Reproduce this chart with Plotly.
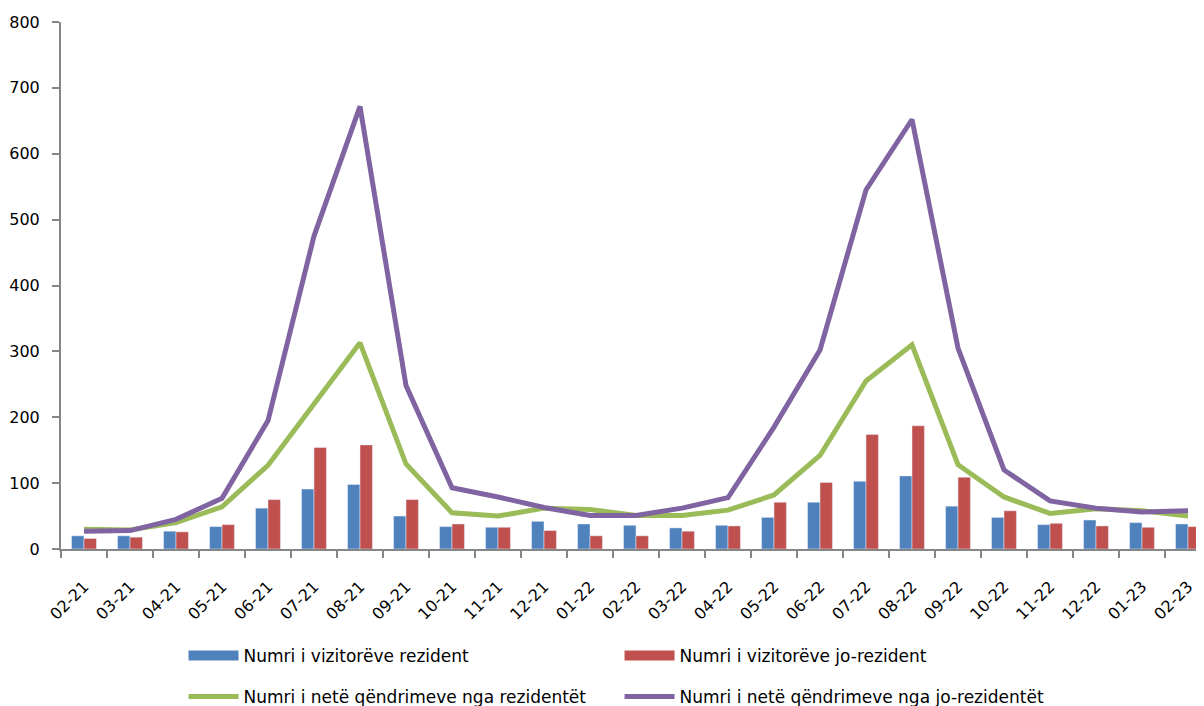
import plotly.graph_objects as go

months = ["02-21", "03-21", "04-21", "05-21", "06-21", "07-21", "08-21", "09-21", "10-21",
          "11-21", "12-21", "01-22", "02-22", "03-22", "04-22", "05-22", "06-22", "07-22",
          "08-22", "09-22", "10-22", "11-22", "12-22", "01-23", "02-23"]

visitors_resident = [20, 20, 27, 34, 62, 91, 98, 50, 34, 33, 42, 38, 36, 32, 36, 48, 71, 103,
                     111, 65, 48, 37, 44, 40, 38]
visitors_nonresident = [16, 18, 26, 37, 75, 154, 158, 75, 38, 33, 28, 20, 20, 27, 35, 71, 101,
                        174, 187, 109, 58, 39, 35, 33, 34]
nights_resident = [30, 29, 40, 64, 127, 220, 313, 129, 55, 50, 62, 60, 51, 51, 59, 82, 142,
                   255, 310, 128, 79, 54, 61, 58, 50]
nights_nonresident = [27, 28, 45, 77, 195, 475, 672, 248, 93, 79, 63, 51, 51, 62, 78, 185, 302,
                      545, 652, 305, 120, 73, 62, 56, 58]

names = ["Numri i vizitorëve rezident", "Numri i vizitorëve jo-rezident",
         "Numri i netë qëndrimeve nga rezidentët", "Numri i netë qëndrimeve nga jo-rezidentët"]
colors = ["#4F81BD", "#C0504D", "#9BBB59", "#8064A2"]

FONT = "DejaVu Sans, Verdana, sans-serif"

fig = go.Figure()
fig.add_trace(go.Bar(x=months, y=visitors_resident, name=names[0], marker_color=colors[0],
                     showlegend=False))
fig.add_trace(go.Bar(x=months, y=visitors_nonresident, name=names[1], marker_color=colors[1],
                     showlegend=False))
fig.add_trace(go.Scatter(x=months, y=nights_resident, name=names[2], mode="lines",
                         line=dict(color=colors[2], width=5), legend="legend2"))
fig.add_trace(go.Scatter(x=months, y=nights_nonresident, name=names[3], mode="lines",
                         line=dict(color=colors[3], width=5), legend="legend2"))
# legend-only entries drawn as wide rectangles for the bar series
for i in range(2):
    fig.add_trace(go.Scatter(x=[None], y=[None], name=names[i], mode="lines",
                             line=dict(color=colors[i], width=13), legend="legend",
                             hoverinfo="skip"))

legend_common = dict(orientation="h", xref="container", yref="container",
                     x=0.1458, xanchor="left", yanchor="middle",
                     entrywidth=371, entrywidthmode="pixels", tracegroupgap=0,
                     font=dict(family=FONT, size=17, color="black"), traceorder="normal",
                     itemwidth=50, bgcolor="rgba(0,0,0,0)")

fig.update_layout(
    width=1204, height=706,
    margin=dict(l=53, r=1, t=14, b=165, autoexpand=False),
    paper_bgcolor="white", plot_bgcolor="white",
    font=dict(family=FONT, size=16, color="black"),
    barmode="group", bargap=0.46, bargroupgap=0,
    showlegend=True,
    legend=dict(y=0.0822, **legend_common),
    legend2=dict(y=0.0241, **legend_common),
    xaxis=dict(tickangle=-45, showline=True, linecolor="#868686", linewidth=2,
               ticks="outside", tickson="boundaries", ticklen=7, tickcolor="#868686",
               tickwidth=2, ticklabelstandoff=20,
               tickfont=dict(family=FONT, size=16, color="black"), showgrid=False,
               range=[-0.5, 24.5], automargin=False),
    yaxis=dict(range=[0, 800], dtick=100, showline=True, linecolor="#868686", linewidth=2,
               ticks="outside", ticklen=7, tickcolor="#868686", tickwidth=2,
               ticklabelstandoff=9, showgrid=False, zeroline=False, automargin=False,
               tickfont=dict(family=FONT, size=16, color="black")),
)

fig.write_html("out.html")
